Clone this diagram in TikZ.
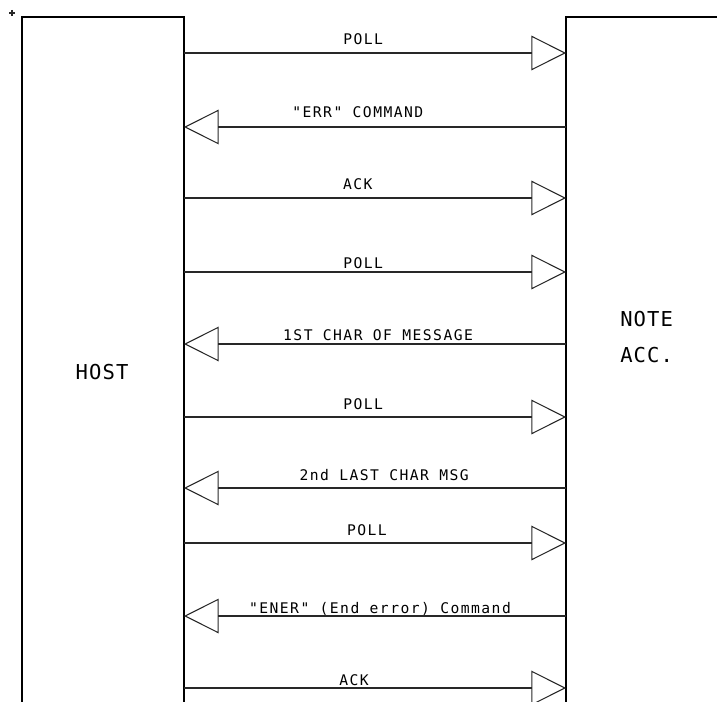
\documentclass[tikz,border=0pt]{standalone}
\usepackage{fontspec}
\usepackage{tikz}
\usetikzlibrary{arrows.meta}
\newfontfamily\cadfont[LetterSpace=10]{DejaVu Sans Mono}
\newfontfamily\cadbigfont[LetterSpace=5.4]{DejaVu Sans Mono}
\definecolor{cadline}{RGB}{40,40,40}
\tikzset{
  box/.style={draw=black, line width=0.9pt},
  msgline/.style={draw=cadline, line width=0.8pt,
    -{Triangle[open, length=26pt, width=26pt]}},
  msg/.style={font={\fontsize{11pt}{13pt}\cadfont}, inner sep=0pt, anchor=base},
  unit/.style={font={\fontsize{15.4pt}{27pt}\cadbigfont}, inner sep=0pt}
}

\begin{document}
\begin{tikzpicture}[x=0.75pt, y=-0.75pt]
  \useasboundingbox (0,0) rectangle (717,702);

  % Corner mark
  \draw[cadline, line width=0.9pt] (9,13) -- (15,13) (12,10) -- (12,16);

  % Host (left) and note acceptor (right), open at the bottom
  \draw[box] (22,702) |- (184,17) -- (184,702);
  \draw[box] (717,17) -- (566,17) -- (566,702);

  % Labels
  \node[unit] (host) at (102,372) {HOST};
  \node[unit, anchor=west, align=left] (noteacc) at (620,337) {NOTE\\ACC.};

  % Message end points on both sides
  \foreach \i/\y in {1/53,2/127,3/198,4/272,5/344,6/417,7/488,8/543,9/616,10/688}
  {
    \coordinate (h\i) at (184,\y);
    \coordinate (n\i) at (566,\y);
  }

  % === Messages, top to bottom ===
  \draw[msgline] (h1) -- node[msg, pos=0.469, yshift=6pt] (m1) {POLL} (n1);
  \draw[msgline] (n2) -- node[msg, pos=0.545, yshift=6.75pt] (m2) {"ERR" COMMAND} (h2);
  \draw[msgline] (h3) -- node[msg, pos=0.455, yshift=6pt] (m3) {ACK} (n3);
  \draw[msgline] (h4) -- node[msg, pos=0.469, yshift=3pt] (m4) {POLL} (n4);
  \draw[msgline] (n5) -- node[msg, pos=0.492, yshift=3pt] (m5) {1ST CHAR OF MESSAGE} (h5);
  \draw[msgline] (h6) -- node[msg, pos=0.469, yshift=6pt] (m6) {POLL} (n6);
  \draw[msgline] (n7) -- node[msg, pos=0.476, yshift=6pt] (m7) {2nd LAST CHAR MSG} (h7);
  \draw[msgline] (h8) -- node[msg, pos=0.479, yshift=6pt] (m8) {POLL} (n8);
  \draw[msgline] (n9) -- node[msg, pos=0.487, yshift=2.25pt] (m9) {"ENER" (End error) Command} (h9);
  \draw[msgline] (h10) -- node[msg, pos=0.445, yshift=2.25pt] (m10) {ACK} (n10);

\end{tikzpicture}
\end{document}
